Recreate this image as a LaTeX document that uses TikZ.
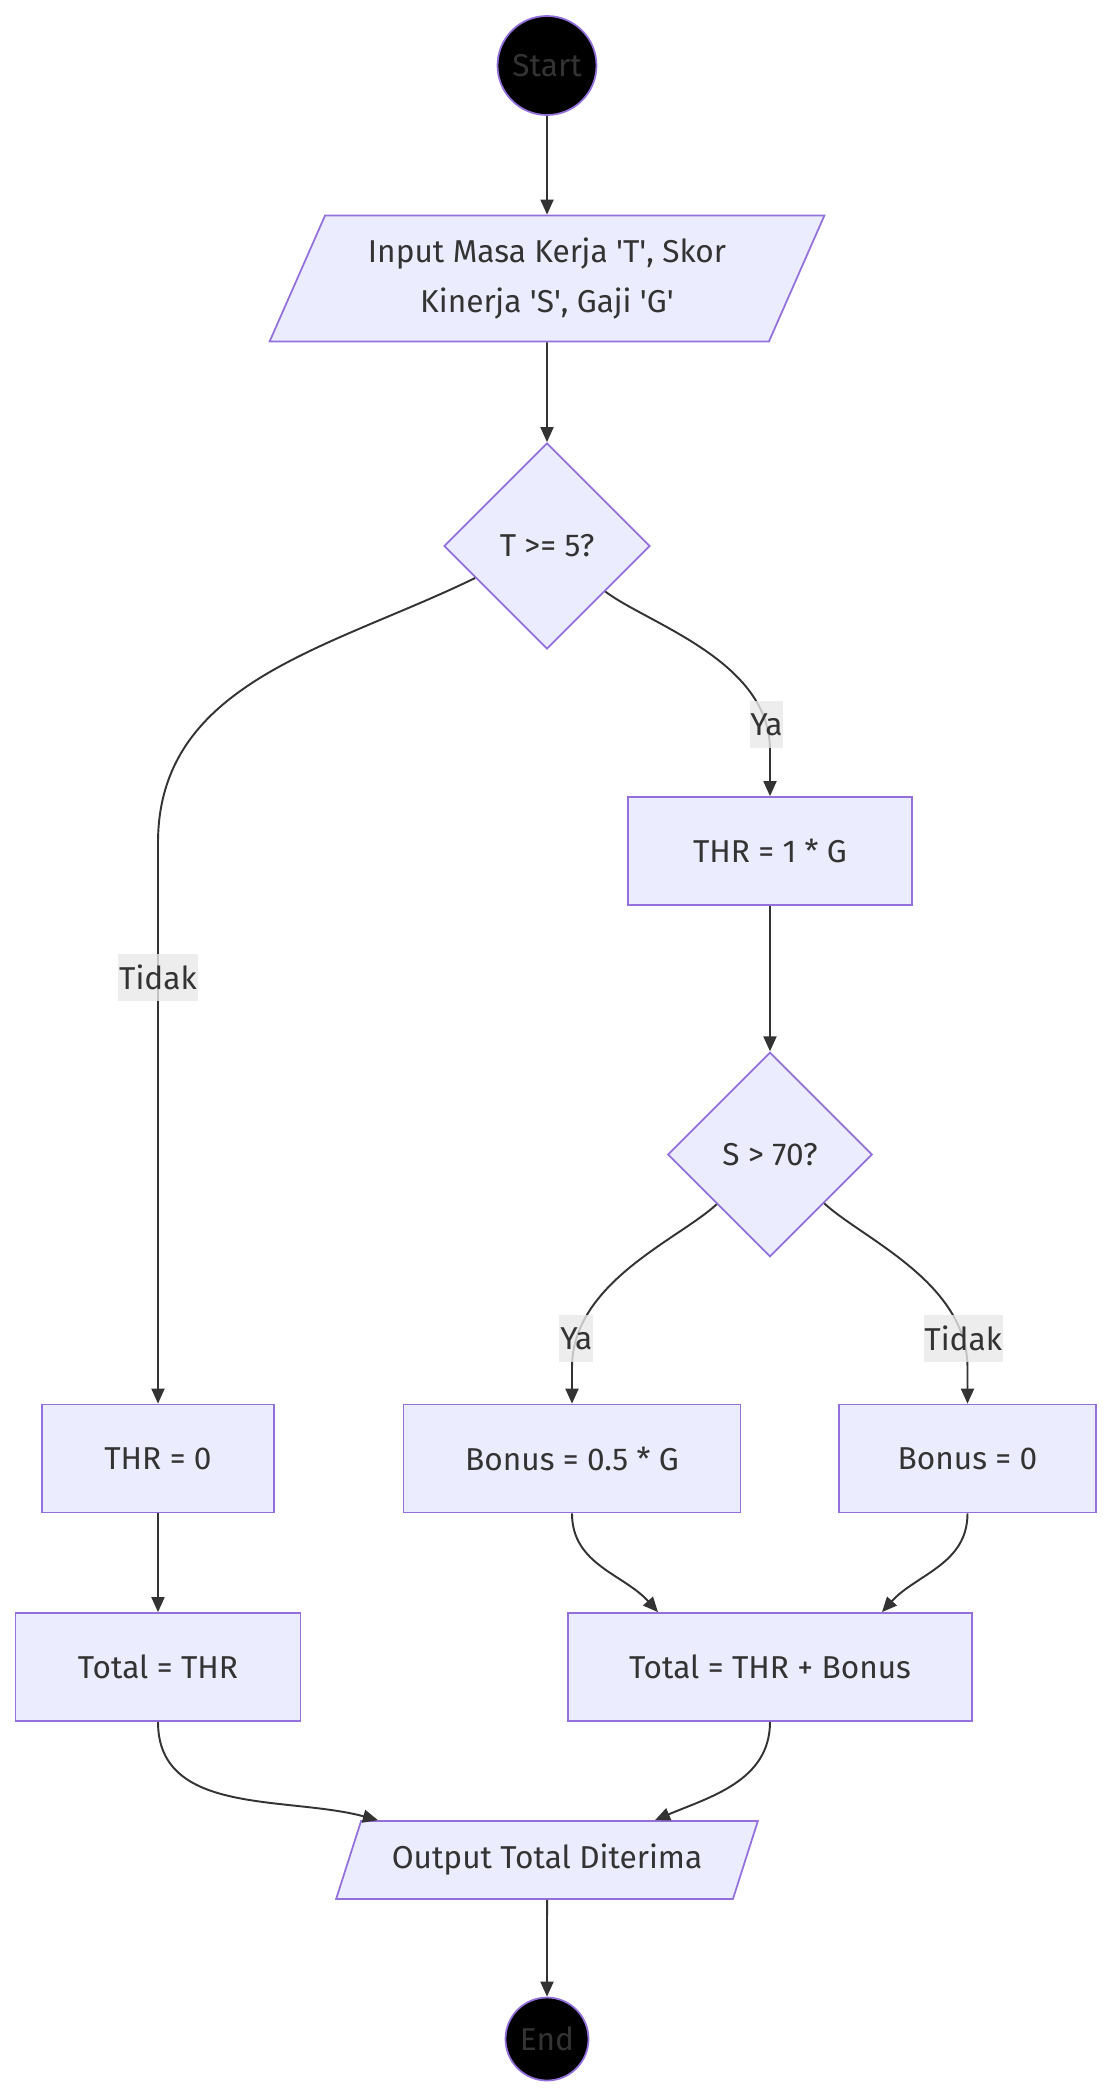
\documentclass[tikz,border=0pt]{standalone}
\usepackage{fontspec}
\setmainfont{Fira Sans}
\usepackage{tikz}
\usetikzlibrary{shapes.geometric,arrows.meta,calc}
\definecolor{nodefill}{HTML}{ECECFF}
\definecolor{nodedraw}{HTML}{9370DB}
\definecolor{inkgray}{HTML}{333333}
\definecolor{lblfill}{HTML}{E8E8E8}

\begin{document}
\begin{tikzpicture}[
    font=\fontsize{18}{28}\selectfont,
    text=inkgray,
    io/.style={
        trapezium,
        trapezium left angle=63.4,
        trapezium right angle=116.6,
        trapezium stretches=true,
        text centered,
        align=center,
        draw=nodedraw,
        fill=nodefill,
        line width=1pt
    },
    block/.style={
        rectangle,
        draw=nodedraw,
        fill=nodefill,
        text centered,
        align=center,
        minimum height=2.16cm,
        line width=1pt
    },
    decision/.style={
        diamond,
        aspect=1,
        draw=nodedraw,
        fill=nodefill,
        text centered,
        inner sep=0pt,
        line width=1pt
    },
    terminal/.style={
        circle,
        draw=nodedraw,
        fill=black,
        inner sep=0pt,
        line width=1pt
    },
    lbl/.style={
        rectangle,
        fill=lblfill,
        fill opacity=0.8,
        text opacity=1,
        inner xsep=0.5pt,
        inner ysep=0pt,
        minimum height=0.94cm
    },
    arr/.style={-{Triangle[length=3mm,width=2.6mm]}, line width=1.1pt, draw=inkgray}
]
\useasboundingbox (0,0) rectangle (22.24,-41.96);

% === NODES ===

% Start and input
\node[terminal, minimum size=1.98cm] (start) at (10.94,-1.31) {Start};
\node[io, minimum width=11.1cm, minimum height=2.52cm] (input) at (10.94,-5.57)
    {Input Masa Kerja \textquotesingle T\textquotesingle, Skor\\Kinerja \textquotesingle S\textquotesingle, Gaji \textquotesingle G\textquotesingle};

% First check
\node[decision, minimum size=4.12cm] (cekmasa) at (10.94,-10.92) {T >= 5?};
\node[block, minimum width=5.67cm] (thrsatu) at (15.40,-17.02) {THR = 1 * G};

% Second check
\node[decision, minimum size=4.09cm] (cekskor) at (15.40,-23.09) {S > 70?};

% Middle row
\node[block, minimum width=4.64cm] (thrnol) at (3.16,-29.17) {THR = 0};
\node[block, minimum width=6.74cm] (bonsetengah) at (11.44,-29.17) {Bonus = 0.5 * G};
\node[block, minimum width=5.13cm] (bonnol) at (19.35,-29.17) {Bonus = 0};

% Totals
\node[block, minimum width=5.70cm] (totthr) at (3.16,-33.34) {Total = THR};
\node[block, minimum width=8.08cm] (totbonus) at (15.40,-33.34) {Total = THR + Bonus};

% Output and end
\node[io, minimum width=8.44cm, minimum height=1.56cm] (output) at (10.94,-37.20) {Output Total Diterima};
\node[terminal, minimum size=1.66cm] (end) at (10.94,-40.78) {End};

% === ARROWS ===

% 1. Start to input to first check
\draw[arr] (start) -- (input);
\draw[arr] (input) -- (cekmasa);

% 2. First check, no (bend then straight down)
\coordinate (tidakbend) at (3.16,-16.86);
\draw[arr] (cekmasa.204) to[out=206, in=90] (tidakbend)
    -- node[lbl, pos=0.24] {Tidak} (thrnol);

% 3. First check, yes
\coordinate (yabend) at (15.40,-15.00);
\draw[arr] (cekmasa.322) to[out=-37, in=90, out looseness=0.6]
    node[lbl, pos=0.9] {Ya} (yabend) -- (thrsatu);
\draw[arr] (thrsatu) -- (cekskor);

% 4. Second check, yes / no
\coordinate (yabend2) at (11.44,-27.35);
\coordinate (tidakbend2) at (19.35,-27.35);
\draw[arr] (cekskor.223) to[out=-137, in=90, out looseness=0.6]
    node[lbl, pos=0.88] {Ya} (yabend2) -- (bonsetengah);
\draw[arr] (cekskor.318) to[out=-43, in=90, out looseness=0.6]
    node[lbl, pos=0.88] {Tidak} (tidakbend2) -- (bonnol);

% 5. Into the totals
\draw[arr] (thrnol) -- (totthr);
\draw[arr] (bonsetengah.south) to[out=-90, in=132] ($(totbonus.north)+(-2.24,0)$);
\draw[arr] (bonnol.south) to[out=-90, in=48] ($(totbonus.north)+(2.24,0)$);

% 6. Totals to output
\draw[arr] (totthr.south) to[out=-90, in=165] ($(output.top left corner)+(0.35,0)$);
\draw[arr] (totbonus.south) to[out=-90, in=23] ($(output.north)+(2.16,0)$);

% 7. Output to end
\draw[arr] (output) -- (end);

\end{tikzpicture}
\end{document}
